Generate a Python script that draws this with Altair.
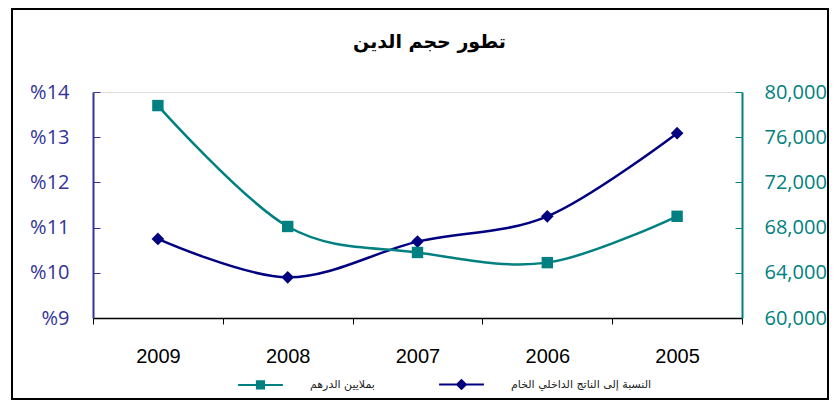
import altair as alt
import pandas as pd

# ---- data ----
years = ["2009", "2008", "2007", "2006", "2005"]
pct_gdp = [10.75, 9.90, 10.69, 11.25, 13.09]          # % of GDP (left axis)
debt_mdh = [78800, 68100, 65800, 64900, 69000]         # millions of dirhams (right axis)
pct_ticks = [9, 10, 11, 12, 13, 14]
debt_ticks = [60000, 64000, 68000, 72000, 76000, 80000]
series_names = ["بملايين الدرهم", "النسبة إلى الناتج الداخلي الخام"]
title_text = "تطور حجم الدين"

NAVY = "#000080"
TEAL = "#008080"
LEFT_LABEL = "#333399"

df = pd.DataFrame({"year": years, "pct": pct_gdp, "debt": debt_mdh})
legend_df = pd.DataFrame({"series": series_names})

W, H = 649, 226

x_enc = alt.X(
    "year:N", sort=years, title=None,
    scale=alt.Scale(type="band", paddingInner=0, paddingOuter=0),
    axis=alt.Axis(
        labelAngle=0, labelFont="Liberation Sans", labelFontSize=20, labelColor="black",
        labelPadding=22, tickBand="extent", tickSize=6, tickColor="black", tickWidth=1,
        domainColor="black", domainWidth=1.5, grid=False,
    ),
)

y_pct = alt.Y(
    "pct:Q", title=None,
    scale=alt.Scale(domain=[9, 14], nice=False, zero=False),
    axis=alt.Axis(
        orient="left", values=pct_ticks, labelExpr="'%' + datum.label",
        labelFont="Open Sans", labelFontSize=20, labelColor=LEFT_LABEL, labelPadding=24,
        ticks=False, domainColor=LEFT_LABEL, domainWidth=2,
        grid=True, gridColor=LEFT_LABEL, gridDash=[7, 2000], gridWidth=1,
    ),
)

y_debt = alt.Y(
    "debt:Q", title=None,
    scale=alt.Scale(domain=[60000, 80000], nice=False, zero=False),
    axis=alt.Axis(
        orient="right", values=debt_ticks, format=",d",
        labelFont="Open Sans", labelFontSize=20, labelColor=TEAL, labelPadding=22,
        ticks=False, domainColor=TEAL, domainWidth=2,
        grid=True, gridColor=TEAL, gridDash=[7, 2000], gridWidth=1,
    ),
)

base = alt.Chart(df)

border = alt.Chart(pd.DataFrame({"b": [0]})).mark_rect(
    fillOpacity=0, stroke="black", strokeWidth=2,
    xOffset=-81, x2Offset=86, yOffset=-83, y2Offset=81,
).encode(x=alt.value(0), x2=alt.value("width"), y=alt.value(0), y2=alt.value("height"))

pct_layer = alt.layer(
    base.mark_line(color=NAVY, strokeWidth=2.5, interpolate="cardinal").encode(x=x_enc, y=y_pct),
    base.mark_point(shape="diamond", filled=True, size=160, color=NAVY, opacity=1).encode(x=x_enc, y=y_pct),
)

debt_layer = alt.layer(
    base.mark_line(color=TEAL, strokeWidth=2.5, interpolate="cardinal").encode(x=x_enc, y=y_debt),
    base.mark_point(shape="square", filled=True, size=130, color=TEAL, opacity=1).encode(x=x_enc, y=y_debt),
)

sq_path = "M-5.6,0H5.6M-0.9,-0.9H0.9V0.9H-0.9Z"
dia_path = "M-5.6,0H5.6M0,-1.1L1.1,0L0,1.1L-1.1,0Z"

leg = alt.Legend(
    title=None, orient="none", direction="horizontal", legendX=144, legendY=287,
    labelFont="DejaVu Sans", labelFontSize=11, labelColor="#222",
    symbolSize=64, symbolStrokeWidth=2, symbolOffset=18, labelOffset=44,
    columnPadding=60, symbolOpacity=1, padding=0,
)
legend_layer = alt.Chart(legend_df).mark_point(filled=True).encode(
    x=alt.value(0), y=alt.value(0),
    shape=alt.Shape("series:N", scale=alt.Scale(domain=series_names, range=[sq_path, dia_path]), legend=leg),
    fill=alt.Fill("series:N", scale=alt.Scale(domain=series_names, range=[TEAL, NAVY]), legend=leg),
    stroke=alt.Stroke("series:N", scale=alt.Scale(domain=series_names, range=[TEAL, NAVY]), legend=leg),
).transform_filter("false")

chart = alt.layer(border, pct_layer, debt_layer, legend_layer).resolve_scale(
    y="independent"
).properties(
    width=W, height=H,
    padding={"left": 3, "top": 0, "right": 0, "bottom": 0},
    title=alt.TitleParams(
        title_text, font="DejaVu Sans", fontSize=19, fontWeight="bold", color="black",
        anchor="middle", offset=-44, dx=12,
    ),
).configure_view(stroke="#808080", strokeWidth=1.5).configure(background="white")

chart.save("out.html", embed_options={"renderer": "svg", "actions": False})
